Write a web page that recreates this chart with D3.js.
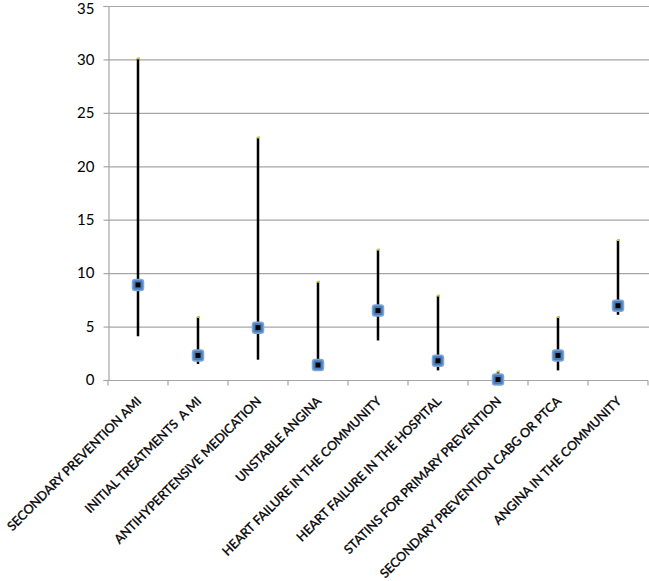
<!DOCTYPE html>
<html><head><meta charset="utf-8">
<script src="https://cdn.jsdelivr.net/npm/d3@7"></script>
<style>body{margin:0;background:#fff}svg{display:block}</style>
</head><body>
<script>
const categories = ["SECONDARY PREVENTION AMI","INITIAL TREATMENTS  A MI","ANTIHYPERTENSIVE MEDICATION","UNSTABLE ANGINA","HEART FAILURE IN THE COMMUNITY","HEART FAILURE IN THE HOSPITAL","STATINS FOR PRIMARY PREVENTION","SECONDARY PREVENTION CABG OR PTCA","ANGINA IN THE COMMUNITY"];
const highs = [30.1, 5.9, 22.7, 9.2, 12.2, 7.9, 0.8, 5.9, 13.1];
const lows  = [4.1, 1.5, 1.9, 1.1, 3.7, 0.9, 0.0, 0.9, 6.1];
const mids  = [8.9, 2.3, 4.9, 1.4, 6.5, 1.8, 0.05, 2.3, 6.95];
const yTicks = [0,5,10,15,20,25,30,35];

const W=649,H=581, mLeft=108, mRight=648, mTop=6, mBottom=380;
const svg=d3.select("body").append("svg").attr("width",W).attr("height",H);
const x=d3.scaleBand().domain(categories).range([mLeft,mRight]);
const y=d3.scaleLinear().domain([0,35]).range([mBottom,mTop]);

// gridlines
svg.append("g").selectAll("line").data(yTicks.filter(d=>d>0)).join("line")
  .attr("x1",mLeft).attr("x2",W).attr("y1",d=>y(d)+0.5).attr("y2",d=>y(d)+0.5)
  .attr("stroke","#a6a6a6").attr("stroke-width",1.2);

// y axis
const ya=svg.append("g").attr("transform",`translate(${mLeft+0.5},0)`)
  .call(d3.axisLeft(y).tickValues(yTicks).tickSize(5).tickPadding(9));
ya.select(".domain").attr("stroke","#a6a6a6").attr("stroke-width",1.2);
ya.selectAll(".tick line").attr("stroke","#a6a6a6").attr("stroke-width",1.2);
ya.selectAll(".tick text").attr("font-family","Lato, 'Open Sans', sans-serif").attr("font-size",15).attr("fill","#000")
  .attr("dy",d=>d===35?"0.5em":"0.32em");

// x axis
const xa=svg.append("g").attr("transform",`translate(0,${mBottom+0.5})`)
  .call(d3.axisBottom(x).tickSize(5).tickFormat(""));
xa.select(".domain").attr("stroke","#a6a6a6").attr("stroke-width",1.2).attr("d",`M${mLeft},0H${mRight}`);
xa.selectAll(".tick").remove();
const bounds=d3.range(categories.length+1).map(i=>mLeft+i*x.bandwidth());
xa.append("g").selectAll("line").data(bounds).join("line")
  .attr("x1",d=>d).attr("x2",d=>d).attr("y1",0).attr("y2",5)
  .attr("stroke","#a6a6a6").attr("stroke-width",1.2);

// labels
svg.append("g").selectAll("text").data(categories).join("text")
  .attr("transform",d=>`translate(${x(d)+x.bandwidth()/2+4},${mBottom+22}) rotate(-45)`)
  .attr("text-anchor","end")
  .attr("xml:space","preserve").style("white-space","pre")
  .attr("font-family","Lato, 'Open Sans', sans-serif").attr("font-size",12.6)
  .attr("fill","#000").attr("stroke","#000").attr("stroke-width",0.35)
  .text(d=>d);

const cx=i=>x(categories[i])+x.bandwidth()/2;
const g=svg.append("g");
g.selectAll("line.r").data(categories).join("line").attr("class","r")
  .attr("x1",(d,i)=>cx(i)).attr("x2",(d,i)=>cx(i))
  .attr("y1",(d,i)=>y(highs[i])).attr("y2",(d,i)=>y(lows[i]))
  .attr("stroke","#000").attr("stroke-width",2.5);
g.selectAll("rect.h").data(categories).join("rect").attr("class","h")
  .attr("x",(d,i)=>cx(i)-1).attr("y",(d,i)=>y(highs[i])-1).attr("width",3).attr("height",2)
  .attr("fill","#c8c850");
g.selectAll("rect.m").data(categories).join("rect").attr("class","m")
  .attr("x",(d,i)=>cx(i)-5.5).attr("y",(d,i)=>y(mids[i])-5.5).attr("width",11).attr("height",11)
  .attr("rx",2.5).attr("fill","#4a7ebb").attr("stroke","#7ea6d8").attr("stroke-width",1.5);
g.selectAll("rect.c").data(categories).join("rect").attr("class","c")
  .attr("x",(d,i)=>cx(i)-2.5).attr("y",(d,i)=>y(mids[i])-2.5).attr("width",5).attr("height",5)
  .attr("fill","#000");
</script>
</body></html>
